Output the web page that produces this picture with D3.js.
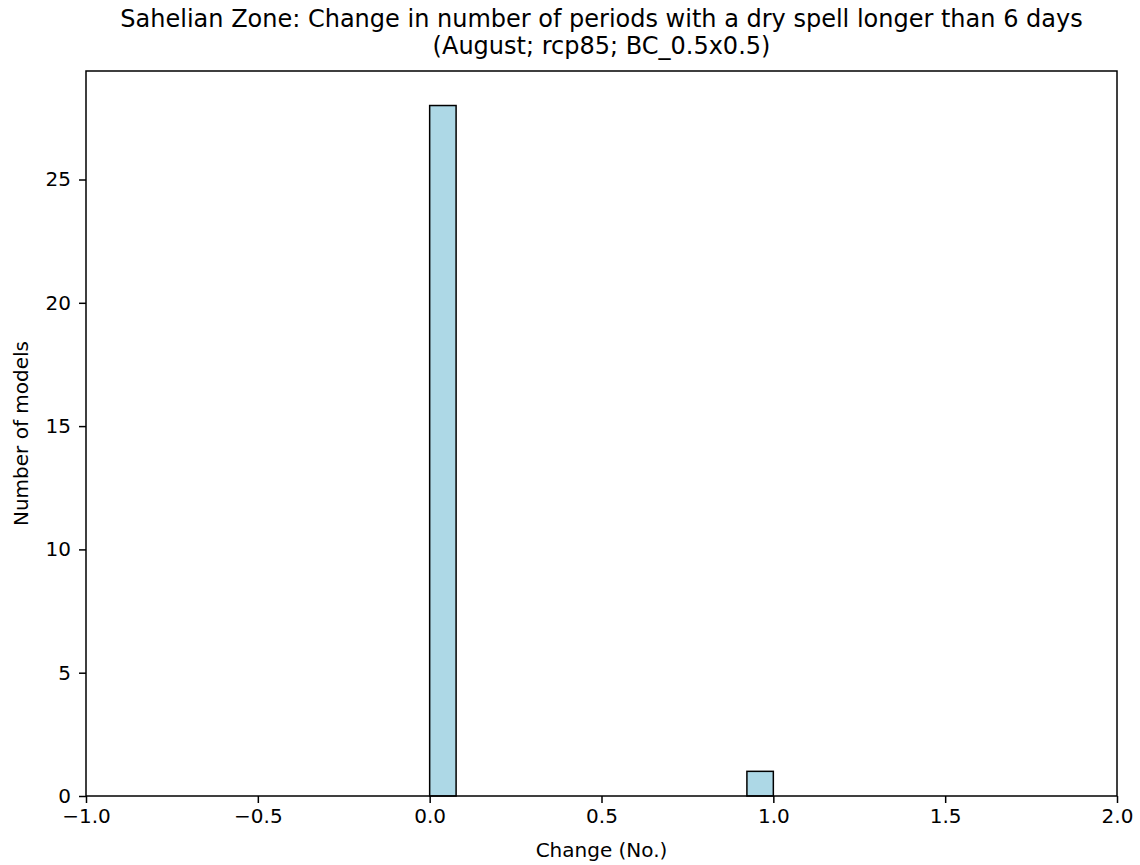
<!DOCTYPE html>
<html>
<head>
<meta charset="utf-8">
<script src="https://cdn.jsdelivr.net/npm/d3@7"></script>
<style>
  html, body { margin: 0; padding: 0; background: #fff; }
  svg text { font-family: "DejaVu Sans", sans-serif; fill: #000; }
</style>
</head>
<body>
<svg id="chart" width="1140" height="865"></svg>
<script>
// ---- data ----
const titleLines = ["Sahelian Zone: Change in number of periods with a dry spell longer than 6 days", "(August; rcp85; BC_0.5x0.5)"];
const xLabel = "Change (No.)";
const yLabel = "Number of models";
// histogram bins (13 bins between 0 and 1)
const binEdges = [0, 0.0769, 0.1538, 0.2308, 0.3077, 0.3846, 0.4615, 0.5385, 0.6154, 0.6923, 0.7692, 0.8462, 0.9231, 1.0];
const binCounts = [28, 0, 0, 0, 0, 0, 0, 0, 0, 0, 0, 0, 1];
const xTicks = [-1.0, -0.5, 0.0, 0.5, 1.0, 1.5, 2.0];
const yTicks = [0, 5, 10, 15, 20, 25];
const xDomain = [-1, 2];
const yDomain = [0, 29.4];

// ---- layout ----
const svg = d3.select("#chart");
const L = 86, R = 1117, T = 71, B = 796;
const FS = 20;
const x = d3.scaleLinear().domain(xDomain).range([L, R]);
const y = d3.scaleLinear().domain(yDomain).range([B, T]);
const fmtMinus = v => (v < 0 ? "\u2212" : "") + Math.abs(v).toFixed(1);

const bins = binCounts.map((c, i) => ({x0: binEdges[i], x1: binEdges[i + 1], c}));

svg.append("g").selectAll("rect").data(bins).join("rect")
  .attr("x", d => x(d.x0))
  .attr("y", d => y(d.c))
  .attr("width", d => x(d.x1) - x(d.x0))
  .attr("height", d => y(0) - y(d.c))
  .attr("fill", "#add8e6")
  .attr("stroke", "#000")
  .attr("stroke-width", 1.5);

// axes
const xAxis = d3.axisBottom(x).tickValues(xTicks).tickFormat(fmtMinus).tickSize(7).tickPadding(6);
const yAxis = d3.axisLeft(y).tickValues(yTicks).tickFormat(d3.format("d")).tickSize(7).tickPadding(8);

const gx = svg.append("g").attr("transform", `translate(0,${B})`).call(xAxis);
const gy = svg.append("g").attr("transform", `translate(${L},0)`).call(yAxis);
[gx, gy].forEach(g => {
  g.select(".domain").remove();
  g.selectAll(".tick line").attr("stroke", "#000").attr("stroke-width", 1.5);
  g.selectAll(".tick text").attr("font-size", FS).attr("font-family", "DejaVu Sans").attr("fill", "#000");
});

// frame
svg.append("rect").attr("x", L).attr("y", T).attr("width", R - L).attr("height", B - T)
  .attr("fill", "none").attr("stroke", "#000").attr("stroke-width", 1.5);

// titles
svg.append("g").selectAll("text").data(titleLines).join("text")
  .attr("x", (L + R) / 2)
  .attr("y", (d, i) => 27 + i * 27)
  .attr("text-anchor", "middle")
  .attr("font-size", 24)
  .text(d => d);

svg.append("text").attr("x", (L + R) / 2).attr("y", 857)
  .attr("text-anchor", "middle").attr("font-size", FS).text(xLabel);

svg.append("text").attr("transform", `translate(28,${(T + B) / 2}) rotate(-90)`)
  .attr("text-anchor", "middle").attr("font-size", FS).text(yLabel);
</script>
</body>
</html>
